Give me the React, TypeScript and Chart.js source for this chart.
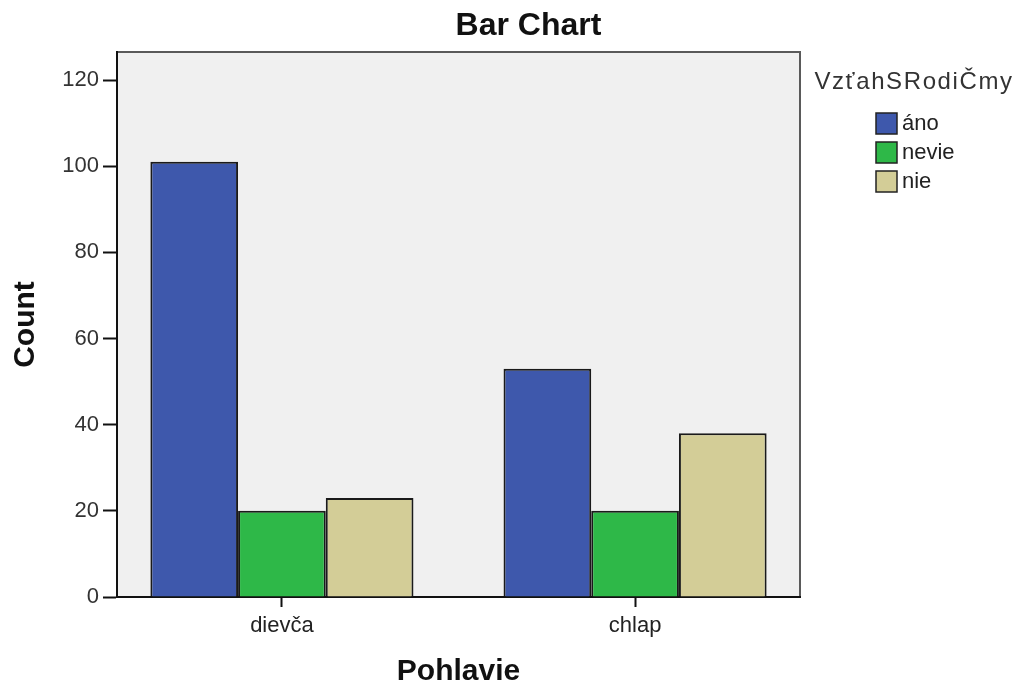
import React, { useEffect, useRef } from 'react';
import { Chart, registerables } from 'chart.js';

Chart.register(...registerables);

const categories = ['dievča', 'chlap'];
const seriesNames = ['áno', 'nevie', 'nie'];
const anoValues = [101, 53];
const nevieValues = [20, 20];
const nieValues = [23, 38];
const seriesValues = [anoValues, nevieValues, nieValues];
const seriesColors = ['#3E58AC', '#2EB848', '#D3CD97'];
const yTickStep = 20;
const yMax = 126.5;
const chartTitle = 'Bar Chart';
const legendTitle = 'VzťahSRodiČmy';
const xTitle = 'Pohlavie';
const yTitle = 'Count';

const FONT = '"Liberation Sans", Arial, Helvetica, sans-serif';

const decorPlugin = {
  id: 'decor',
  beforeDraw(chart: any) {
    const { ctx, chartArea: a } = chart;
    ctx.save();
    ctx.fillStyle = '#F0F0F0';
    ctx.fillRect(a.left, a.top, a.right - a.left, a.bottom - a.top);
    ctx.strokeStyle = '#5A5A5A';
    ctx.lineWidth = 2;
    ctx.strokeRect(a.left, a.top, a.right - a.left, a.bottom - a.top);
    ctx.restore();
  },
  afterDraw(chart: any) {
    const { ctx, chartArea: a } = chart;
    ctx.save();
    // chart title
    ctx.fillStyle = '#111111';
    ctx.font = `bold 32px ${FONT}`;
    ctx.textAlign = 'center';
    ctx.textBaseline = 'middle';
    ctx.fillText(chartTitle, chart.width / 2 + 15, 26);

    // legend title
    ctx.fillStyle = '#333333';
    ctx.font = `24px ${FONT}`;
    try { (ctx as any).letterSpacing = '1.6px'; } catch (e) {}
    ctx.textAlign = 'center';
    ctx.fillText(legendTitle, a.right + 114, 82);
    try { (ctx as any).letterSpacing = '0px'; } catch (e) {}

    // legend items
    ctx.font = `22px ${FONT}`;
    ctx.textAlign = 'left';
    chart.data.datasets.forEach((ds: any, i: number) => {
      const bx = a.right + 76;
      const by = 113 + i * 29;
      ctx.fillStyle = ds.backgroundColor;
      ctx.fillRect(bx, by, 21, 21);
      ctx.strokeStyle = '#222222';
      ctx.lineWidth = 1.5;
      ctx.strokeRect(bx, by, 21, 21);
      ctx.fillStyle = '#222222';
      ctx.fillText(ds.label, bx + 26, by + 11);
    });
    ctx.restore();
  },
};

export default function App() {
  const canvasRef = useRef<HTMLCanvasElement | null>(null);

  useEffect(() => {
    if (!canvasRef.current) return;
    Chart.defaults.font.family = FONT;
    const chart = new Chart(canvasRef.current, {
      type: 'bar',
      data: {
        labels: categories,
        datasets: seriesNames.map((name, i) => ({
          label: name,
          data: seriesValues[i],
          backgroundColor: seriesColors[i],
          borderColor: '#1A1A1A',
          borderWidth: 2,
          barPercentage: 1,
          categoryPercentage: 0.745,
        })),
      },
      options: {
        animation: false,
        responsive: true,
        maintainAspectRatio: false,
        layout: { padding: { top: 52, right: 227, left: 0, bottom: 0 } },
        plugins: {
          legend: { display: false },
          title: { display: false },
          tooltip: { enabled: false },
        },
        scales: {
          x: {
            afterFit: (s: any) => { s.height = 98; },
            afterBuildTicks: (s: any) => { s._startValue = -0.467; s._valueRange = 1.934; },
            ticks: { font: { size: 22, family: FONT }, color: '#222222', padding: 6 },
            grid: {
              offset: false,
              drawOnChartArea: false,
              drawTicks: true,
              tickLength: 10,
              tickColor: '#111111',
              tickWidth: 2,
            },
            border: { display: true, color: '#111111', width: 2 },
            title: {
              display: true,
              text: xTitle,
              color: '#111111',
              font: { size: 30, weight: 'bold', family: FONT },
              padding: { top: 0, bottom: 5 },
            },
          },
          y: {
            min: 0,
            max: yMax,
            afterFit: (s: any) => { s.width = 117; },
            ticks: {
              stepSize: yTickStep,
              includeBounds: false,
              font: { size: 22, family: FONT },
              color: '#333333',
              padding: 4,
            },
            grid: {
              drawOnChartArea: false,
              drawTicks: true,
              tickLength: 14,
              tickColor: '#111111',
              tickWidth: 2,
            },
            border: { display: true, color: '#111111', width: 2 },
            title: {
              display: true,
              text: yTitle,
              color: '#111111',
              font: { size: 30, weight: 'bold', family: FONT },
              padding: { top: 8, bottom: 0 },
            },
          },
        },
      },
      plugins: [decorPlugin],
    } as any);
    return () => chart.destroy();
  }, []);

  return (
    <div style={{ position: 'fixed', left: 0, top: 0, width: 1027, height: 695, background: '#ffffff' }}>
      <canvas ref={canvasRef} />
    </div>
  );
}
